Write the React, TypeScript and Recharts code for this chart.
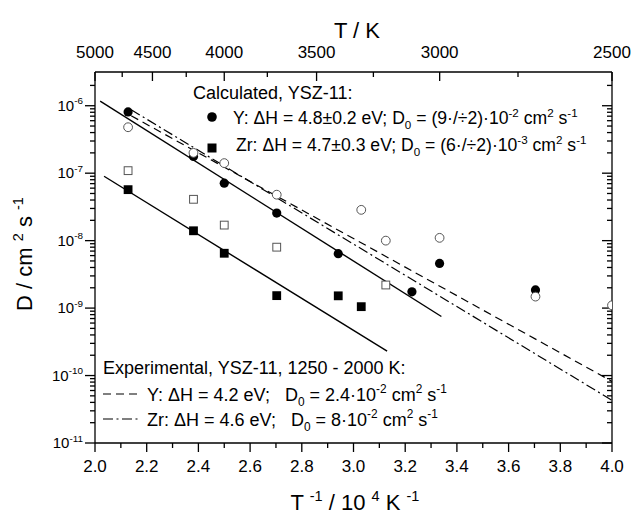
import React from "react";
import { ScatterChart, Scatter, XAxis, YAxis } from "recharts";

// x = 10^4 / T (K^-1), y = D (cm^2 s^-1)
const yCalcFilled = [
  { x: 2.128, y: 8.1e-7 },
  { x: 2.381, y: 1.77e-7 },
  { x: 2.5, y: 7.1e-8 },
  { x: 2.703, y: 2.56e-8 },
  { x: 2.941, y: 6.4e-9 },
  { x: 3.226, y: 1.74e-9 },
  { x: 3.333, y: 4.6e-9 },
  { x: 3.704, y: 1.86e-9 },
];

const yCalcOpen = [
  { x: 2.128, y: 4.8e-7 },
  { x: 2.381, y: 2.0e-7 },
  { x: 2.5, y: 1.41e-7 },
  { x: 2.703, y: 4.8e-8 },
  { x: 3.03, y: 2.86e-8 },
  { x: 3.125, y: 1.0e-8 },
  { x: 3.333, y: 1.1e-8 },
  { x: 3.704, y: 1.48e-9 },
  { x: 4.0, y: 1.1e-9 },
];

const zrCalcFilled = [
  { x: 2.128, y: 5.7e-8 },
  { x: 2.381, y: 1.4e-8 },
  { x: 2.5, y: 6.5e-9 },
  { x: 2.703, y: 1.53e-9 },
  { x: 2.941, y: 1.52e-9 },
  { x: 3.03, y: 1.05e-9 },
];

const zrCalcOpen = [
  { x: 2.128, y: 1.09e-7 },
  { x: 2.381, y: 4.1e-8 },
  { x: 2.5, y: 1.7e-8 },
  { x: 2.703, y: 8.0e-9 },
  { x: 3.125, y: 2.2e-9 },
];

// fitted lines, end points
const yCalcFit = [
  { x: 2.02, y: 1.17e-6 },
  { x: 3.34, y: 7.5e-10 },
];
const zrCalcFit = [
  { x: 2.035, y: 9.0e-8 },
  { x: 3.13, y: 2.3e-10 },
];
const yExpFit = [
  { x: 2.14, y: 7.1e-7 },
  { x: 4.0, y: 8.2e-11 },
];
const zrExpFit = [
  { x: 2.14, y: 8.7e-7 },
  { x: 4.0, y: 4.3e-11 },
];

const bottomMajor = [2.0, 2.2, 2.4, 2.6, 2.8, 3.0, 3.2, 3.4, 3.6, 3.8, 4.0];
const bottomMinor = [2.1, 2.3, 2.5, 2.7, 2.9, 3.1, 3.3, 3.5, 3.7, 3.9];
const topMajorT = [5000, 4500, 4000, 3500, 3000, 2500];
const topMinorT = [4750, 4250, 3750, 3250, 2750];
const decades = [-11, -10, -9, -8, -7, -6];
const mantissas = [2, 3, 4, 5, 6, 7, 8, 9];

const topMajor = topMajorT.map((t) => 1e4 / t);
const topMinor = topMinorT.map((t) => 1e4 / t);
const logMajor = decades.map((d) => Math.pow(10, d));
const logMinor: number[] = [];
decades.forEach((d) => {
  if (d < -6) mantissas.forEach((m) => logMinor.push(m * Math.pow(10, d)));
});
logMinor.push(2e-6);

const X_MIN = 2;
const X_MAX = 4;
const Y_MIN = 1e-11;
const Y_MAX = Math.pow(10, -5.5);
const X_DOMAIN: [number, number] = [X_MIN, X_MAX];
const Y_DOMAIN: [number, number] = [Y_MIN, Y_MAX];

// tick marks are drawn as scatter points sitting on the frame
const bottomMajorMarks = bottomMajor.map((x) => ({ x, y: Y_MIN }));
const bottomMinorMarks = bottomMinor.map((x) => ({ x, y: Y_MIN }));
const topMajorMarks = topMajor.map((x) => ({ x, y: Y_MAX }));
const topMinorMarks = topMinor.map((x) => ({ x, y: Y_MAX }));
const leftMajorMarks = logMajor.map((y) => ({ x: X_MIN, y }));
const leftMinorMarks = logMinor.map((y) => ({ x: X_MIN, y }));
const rightMajorMarks = logMajor.map((y) => ({ x: X_MAX, y }));
const rightMinorMarks = logMinor.map((y) => ({ x: X_MAX, y }));

const FONT = "'Liberation Sans', Arial, Helvetica, sans-serif";
const BLACK = "#000";
const GREY = "#555";
const TW = 1.3; // tick width

type Part = { s: string; sup?: boolean; sub?: boolean };

const Rich = ({
  x,
  y,
  size,
  parts,
  anchor = "start",
  transform,
}: {
  x: number;
  y: number;
  size: number;
  parts: Part[];
  anchor?: string;
  transform?: string;
}) => {
  let cur = 0;
  return (
    <text
      x={x}
      y={y}
      fontSize={size}
      fontFamily={FONT}
      textAnchor={anchor as any}
      transform={transform}
      fill={BLACK}
      style={{ whiteSpace: "pre" }}
    >
      {parts.map((p, i) => {
        const target = p.sup ? -size * 0.42 : p.sub ? size * 0.3 : 0;
        const dy = target - cur;
        cur = target;
        return (
          <tspan key={i} dy={dy} fontSize={p.sup || p.sub ? size * 0.66 : size}>
            {p.s}
          </tspan>
        );
      })}
    </text>
  );
};

// label positions: axis line 443 (bottom), 72 (top), 95 (left)
const BottomLabel = (props: any) => (
  <text x={props.x} y={472} textAnchor="middle" fontSize={17} fontFamily={FONT} fill={BLACK}>
    {Number(props.payload.value).toFixed(1)}
  </text>
);

const TopLabel = (props: any) => (
  <text x={props.x} y={58} textAnchor="middle" fontSize={17} fontFamily={FONT} fill={BLACK}>
    {Math.round(1e4 / props.payload.value)}
  </text>
);

const LeftLabel = (props: any) => (
  <Rich
    x={83}
    y={props.y + 5}
    size={15}
    anchor="end"
    parts={[{ s: "10" }, { s: String(Math.round(Math.log10(props.payload.value))), sup: true }]}
  />
);

// tick shapes (vertical: down from frame; horizontal: to the left of frame)
const vTick = (len: number) => (p: any) => (
  <rect x={p.cx - TW / 2} y={p.cy} width={TW} height={len} fill={BLACK} />
);
const hTick = (len: number) => (p: any) => (
  <rect x={p.cx - len} y={p.cy - TW / 2} width={len} height={TW} fill={BLACK} />
);

const FilledCircle = (p: any) => <circle cx={p.cx} cy={p.cy} r={4.6} fill={BLACK} />;
const OpenCircle = (p: any) => (
  <circle cx={p.cx} cy={p.cy} r={4.4} fill="#fff" stroke={GREY} strokeWidth={1} />
);
const FilledSquare = (p: any) => (
  <rect x={p.cx - 4.4} y={p.cy - 4.4} width={8.8} height={8.8} fill={BLACK} />
);
const OpenSquare = (p: any) => (
  <rect x={p.cx - 3.9} y={p.cy - 3.9} width={7.8} height={7.8} fill="#fff" stroke={GREY} strokeWidth={1} />
);
const NoShape = () => <g />;

const DASH = "8 5";
const DASHDOT = "10 3.5 2 3.5";

export default function App() {
  return (
    <div style={{ position: "absolute", left: 0, top: 0, width: 634, height: 517, background: "#fff", fontFamily: FONT }}>
      <ScatterChart width={634} height={517} margin={{ top: 72, right: 22, bottom: 73, left: 94 }}>
        <XAxis xAxisId="b" type="number" dataKey="x" orientation="bottom" domain={X_DOMAIN} allowDataOverflow
          ticks={bottomMajor} interval={0} height={1} tickSize={0} tickMargin={0}
          tickLine={false} axisLine={{ stroke: BLACK, strokeWidth: 1.3 }} tick={BottomLabel} />
        <XAxis xAxisId="t" type="number" dataKey="x" orientation="top" mirror domain={X_DOMAIN}
          ticks={topMajor} interval={0} height={1} tickSize={0} tickMargin={0}
          tickLine={false} axisLine={{ stroke: BLACK, strokeWidth: 1.3 }} tick={TopLabel} />
        <YAxis yAxisId="l" type="number" dataKey="y" scale="log" orientation="left" domain={Y_DOMAIN} allowDataOverflow
          ticks={logMajor} interval={0} width={1} tickSize={0} tickMargin={0}
          tickLine={false} axisLine={{ stroke: BLACK, strokeWidth: 1.3 }} tick={LeftLabel} />
        <YAxis yAxisId="r" type="number" dataKey="y" scale="log" orientation="right" mirror domain={Y_DOMAIN}
          ticks={logMajor} interval={0} width={1} tickSize={0}
          tickLine={false} axisLine={{ stroke: BLACK, strokeWidth: 1.3 }} tick={false} />

        {/* frame ticks: bottom/left outward, top/right inward */}
        <Scatter xAxisId="t" yAxisId="r" data={bottomMajorMarks} shape={vTick(9)} isAnimationActive={false} />
        <Scatter xAxisId="t" yAxisId="r" data={bottomMinorMarks} shape={vTick(5)} isAnimationActive={false} />
        <Scatter xAxisId="t" yAxisId="r" data={topMajorMarks} shape={vTick(9)} isAnimationActive={false} />
        <Scatter xAxisId="t" yAxisId="r" data={topMinorMarks} shape={vTick(5)} isAnimationActive={false} />
        <Scatter xAxisId="t" yAxisId="r" data={leftMajorMarks} shape={hTick(10)} isAnimationActive={false} />
        <Scatter xAxisId="t" yAxisId="r" data={leftMinorMarks} shape={hTick(5)} isAnimationActive={false} />
        <Scatter xAxisId="t" yAxisId="r" data={rightMajorMarks} shape={hTick(10)} isAnimationActive={false} />
        <Scatter xAxisId="t" yAxisId="r" data={rightMinorMarks} shape={hTick(5)} isAnimationActive={false} />

        <Scatter xAxisId="b" yAxisId="l" data={yExpFit} shape={NoShape}
          line={{ stroke: BLACK, strokeWidth: 1.2, strokeDasharray: DASH }} isAnimationActive={false} />
        <Scatter xAxisId="b" yAxisId="l" data={zrExpFit} shape={NoShape}
          line={{ stroke: BLACK, strokeWidth: 1.2, strokeDasharray: DASHDOT }} isAnimationActive={false} />
        <Scatter xAxisId="b" yAxisId="l" data={yCalcFit} shape={NoShape}
          line={{ stroke: BLACK, strokeWidth: 1.4 }} isAnimationActive={false} />
        <Scatter xAxisId="b" yAxisId="l" data={zrCalcFit} shape={NoShape}
          line={{ stroke: BLACK, strokeWidth: 1.4 }} isAnimationActive={false} />
        <Scatter xAxisId="b" yAxisId="l" data={yCalcFilled} shape={FilledCircle} isAnimationActive={false} />
        <Scatter xAxisId="b" yAxisId="l" data={zrCalcFilled} shape={FilledSquare} isAnimationActive={false} />
        <Scatter xAxisId="b" yAxisId="l" data={yCalcOpen} shape={OpenCircle} isAnimationActive={false} />
        <Scatter xAxisId="b" yAxisId="l" data={zrCalcOpen} shape={OpenSquare} isAnimationActive={false} />
      </ScatterChart>

      <svg width={634} height={517} style={{ position: "absolute", left: 0, top: 0, pointerEvents: "none" }}>
        {/* axis titles */}
        <Rich x={357} y={38} size={22} anchor="middle" parts={[{ s: "T / K" }]} />
        <Rich
          x={355}
          y={510}
          size={22}
          anchor="middle"
          parts={[
            { s: "T " },
            { s: "-1", sup: true },
            { s: " / 10 " },
            { s: "4", sup: true },
            { s: " K " },
            { s: "-1", sup: true },
          ]}
        />
        <Rich
          x={0}
          y={0}
          size={22}
          anchor="middle"
          transform="translate(32,254) rotate(-90)"
          parts={[{ s: "D / cm " }, { s: "2", sup: true }, { s: " s " }, { s: "-1", sup: true }]}
        />

        {/* calculated legend */}
        <Rich x={193} y={99} size={18} parts={[{ s: "Calculated, YSZ-11:" }]} />
        <circle cx={212} cy={117} r={4.8} fill={BLACK} />
        <Rich
          x={233}
          y={124}
          size={17.6}
          parts={[
            { s: "Y: ΔH = 4.8±0.2 eV; D" },
            { s: "0", sub: true },
            { s: " = (9·/÷2)·10" },
            { s: "-2", sup: true },
            { s: " cm" },
            { s: "2", sup: true },
            { s: " s" },
            { s: "-1", sup: true },
          ]}
        />
        <rect x={207.5} y={143.5} width={9} height={9} fill={BLACK} />
        <Rich
          x={236}
          y={151}
          size={17.6}
          parts={[
            { s: "Zr: ΔH = 4.7±0.3 eV; D" },
            { s: "0", sub: true },
            { s: " = (6·/÷2)·10" },
            { s: "-3", sup: true },
            { s: " cm" },
            { s: "2", sup: true },
            { s: " s" },
            { s: "-1", sup: true },
          ]}
        />

        {/* experimental legend */}
        <Rich x={103} y={374} size={18} parts={[{ s: "Experimental, YSZ-11, 1250 - 2000 K:" }]} />
        <line x1={103} y1={394} x2={142} y2={394} stroke={BLACK} strokeWidth={1.2} strokeDasharray={DASH} />
        <Rich
          x={147}
          y={401}
          size={18}
          parts={[
            { s: "Y: ΔH = 4.2 eV;   D" },
            { s: "0", sub: true },
            { s: " = 2.4·10" },
            { s: "-2", sup: true },
            { s: " cm" },
            { s: "2", sup: true },
            { s: " s" },
            { s: "-1", sup: true },
          ]}
        />
        <line x1={103} y1={419} x2={139} y2={419} stroke={BLACK} strokeWidth={1.2} strokeDasharray={DASHDOT} />
        <Rich
          x={147}
          y={426}
          size={18}
          parts={[
            { s: "Zr: ΔH = 4.6 eV;   D" },
            { s: "0", sub: true },
            { s: " = 8·10" },
            { s: "-2", sup: true },
            { s: " cm" },
            { s: "2", sup: true },
            { s: " s" },
            { s: "-1", sup: true },
          ]}
        />
      </svg>
    </div>
  );
}
